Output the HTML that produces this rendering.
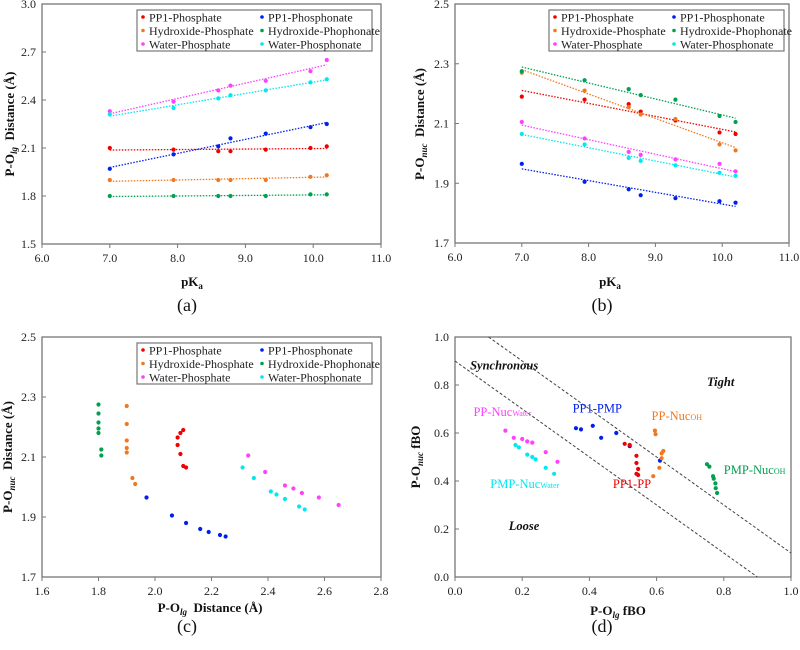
<!DOCTYPE html>
<html><head><meta charset="utf-8"><style>
body{margin:0;background:#fff;width:800px;height:650px;overflow:hidden}
svg{display:block;font-family:"Liberation Serif",serif}
</style></head><body>
<svg id="fig" width="800" height="650" viewBox="0 0 800 650"></svg>
<script>
const pka=[7.0,7.94,8.6,8.78,9.3,9.96,10.2];
const seriesNames=["PP1-Phosphate","PP1-Phosphonate","Hydroxide-Phosphate","Hydroxide-Phophonate","Water-Phosphate","Water-Phosphonate"];
const colors=["#f00000","#0020f0","#f07820","#00a050","#ff40ff","#00e8f0"];
const olgRed=[2.10,2.09,2.08,2.08,2.09,2.10,2.11];
const olgBlue=[1.97,2.06,2.11,2.16,2.19,2.23,2.25];
const olgOrange=[1.90,1.90,1.90,1.90,1.90,1.92,1.93];
const olgGreen=[1.80,1.80,1.80,1.80,1.80,1.81,1.81];
const olgMagenta=[2.33,2.39,2.46,2.49,2.52,2.58,2.65];
const olgCyan=[2.31,2.35,2.41,2.43,2.46,2.51,2.53];
const nucRed=[2.19,2.18,2.165,2.14,2.11,2.07,2.065];
const nucBlue=[1.965,1.905,1.88,1.86,1.85,1.84,1.835];
const nucOrange=[2.27,2.21,2.155,2.13,2.115,2.03,2.01];
const nucGreen=[2.275,2.245,2.215,2.195,2.18,2.125,2.105];
const nucMagenta=[2.105,2.05,2.005,1.995,1.98,1.965,1.94];
const nucCyan=[2.065,2.03,1.985,1.975,1.96,1.935,1.925];
const fboMagX=[0.15,0.175,0.2,0.215,0.23,0.27,0.305], fboMagY=[0.61,0.58,0.575,0.565,0.56,0.52,0.48];
const fboCyanX=[0.18,0.19,0.215,0.23,0.24,0.27,0.295], fboCyanY=[0.55,0.54,0.51,0.50,0.49,0.455,0.43];
const fboBlueX=[0.36,0.375,0.41,0.435,0.48,0.52,0.61], fboBlueY=[0.62,0.615,0.63,0.58,0.60,0.545,0.485];
const fboRedX=[0.505,0.52,0.54,0.54,0.545,0.54,0.545], fboRedY=[0.555,0.55,0.505,0.475,0.45,0.43,0.425];
const fboOrangeX=[0.595,0.597,0.615,0.62,0.615,0.608,0.59], fboOrangeY=[0.61,0.595,0.515,0.525,0.495,0.455,0.42];
const fboGreenX=[0.75,0.757,0.768,0.77,0.775,0.776,0.78], fboGreenY=[0.47,0.46,0.42,0.41,0.39,0.37,0.35];
const ticksA=[1.5,1.8,2.1,2.4,2.7,3.0], ticksB=[1.7,1.9,2.1,2.3,2.5], ticksPka=[6,7,8,9,10,11];
const ticksCx=[1.6,1.8,2.0,2.2,2.4,2.6,2.8], ticksD=[0,0.2,0.4,0.6,0.8,1.0];

const NS="http://www.w3.org/2000/svg", svg=document.getElementById('fig');
function el(tag,attrs,parent,text){const e=document.createElementNS(NS,tag);for(const k in attrs)e.setAttribute(k,attrs[k]);if(text!==undefined)e.textContent=text;(parent||svg).appendChild(e);return e;}

function panel(name,L,R,T,B,x0,x1,y0,y1,xt,yt){
  const g=el('g',{});
  
  
  const sx=v=>L+(v-x0)/(x1-x0)*(R-L), sy=v=>B-(v-y0)/(y1-y0)*(B-T);
  const fr=el('rect',{x:L,y:T,width:R-L,height:B-T,fill:'none',stroke:'#777','stroke-width':1.3},g);
  
  
  xt.forEach(v=>{const t=el('text',{x:sx(v),y:B+18,'text-anchor':'middle','font-size':12,fill:'#222'},g,v.toFixed(1));
    
    el('line',{x1:sx(v),x2:sx(v),y1:B,y2:B+4,stroke:'#777'},g);});
  yt.forEach(v=>{const t=el('text',{x:L-6,y:sy(v)+4,'text-anchor':'end','font-size':12,fill:'#222'},g,v.toFixed(1));
    
    el('line',{x1:L,x2:L+4,y1:sy(v),y2:sy(v),stroke:'#777'},g);});
  return {g,sx,sy};
}
function dots(p,xs,ys,c,name){xs.forEach((x,i)=>{const d=el('circle',{cx:p.sx(x),cy:p.sy(ys[i]),r:2.1,fill:c},p.g);
  });}
function trend(p,xs,ys,c,name){const n=xs.length;let mx=0,my=0;xs.forEach((x,i)=>{mx+=x;my+=ys[i];});mx/=n;my/=n;
  let sxy=0,sxx=0;xs.forEach((x,i)=>{sxy+=(x-mx)*(ys[i]-my);sxx+=(x-mx)*(x-mx);});const b=sxy/sxx,a=my-b*mx;
  const xa=Math.min(...xs),xb=Math.max(...xs);
  const l=el('line',{x1:p.sx(xa),y1:p.sy(a+b*xa),x2:p.sx(xb),y2:p.sy(a+b*xb),stroke:c,'stroke-width':1.3,'stroke-dasharray':'1.5,1.5'},p.g);
  }
function legend(p,x,y){const bx=el('rect',{x:x,y:y,width:235,height:41,fill:'#fff',stroke:'#777','stroke-width':1.2},p.g);
  
  seriesNames.forEach((s,i)=>{const cx=x+6+(i%2)*119, cy=y+7+Math.floor(i/2)*13.5;
    el('circle',{cx:cx,cy:cy,r:1.8,fill:colors[i]},p.g);
    const t=el('text',{x:cx+6,y:cy+4.5,'font-size':12,fill:'#222'},p.g,s);
    });}
function title(x,y,html,rot,name){const t=el('text',{x:x,y:y,'text-anchor':'middle','font-size':13,'font-weight':'bold',fill:'#111',transform:rot?`rotate(-90 ${x} ${y})`:''});
  t.innerHTML=html;}
function caption(x,y,s){const t=el('text',{x:x,y:y,'text-anchor':'middle','font-size':18,fill:'#111'},svg,s);
  }

const olg=[olgRed,olgBlue,olgOrange,olgGreen,olgMagenta,olgCyan];
const nuc=[nucRed,nucBlue,nucOrange,nucGreen,nucMagenta,nucCyan];
// (a)
const pa=panel('panel-a',42,381,4,244,6,11,1.5,3.0,ticksPka,ticksA);
olg.forEach((ys,i)=>{trend(pa,pka,ys,colors[i],seriesNames[i]);dots(pa,pka,ys,colors[i],seriesNames[i]);});
legend(pa,137,10);
title(192,286,'pK<tspan font-size="9" dy="3">a</tspan>',false,'x-axis-title');
title(14,124,'P-O<tspan font-size="9" font-style="italic" dy="3">lg</tspan><tspan dy="-3" xml:space="preserve">  Distance (Å)</tspan>',true,'y-axis-title');
caption(187,311,'(a)');
// (b)
const pb=panel('panel-b',455,789,4,243,6,11,1.7,2.5,ticksPka,ticksB);
nuc.forEach((ys,i)=>{trend(pb,pka,ys,colors[i],seriesNames[i]);dots(pb,pka,ys,colors[i],seriesNames[i]);});
legend(pb,549,10);
title(610,286,'pK<tspan font-size="9" dy="3">a</tspan>',false,'x-axis-title');
title(424,124,'P-O<tspan font-size="9" font-style="italic" dy="3">nuc</tspan><tspan dy="-3" xml:space="preserve">  Distance (Å)</tspan>',true,'y-axis-title');
caption(602,311,'(b)');
// (c)
const pc=panel('panel-c',42,381,337,577,1.6,2.8,1.7,2.5,ticksCx,ticksB);
olg.forEach((xs,i)=>dots(pc,xs,nuc[i],colors[i],seriesNames[i]));
legend(pc,137,343);
title(210,612,'P-O<tspan font-size="9" font-style="italic" dy="3">lg</tspan><tspan dy="-3" xml:space="preserve">  Distance (Å)</tspan>',false,'x-axis-title');
title(12,457,'P-O<tspan font-size="9" font-style="italic" dy="3">nuc</tspan><tspan dy="-3" xml:space="preserve">  Distance (Å)</tspan>',true,'y-axis-title');
caption(187,632,'(c)');
// (d)
const pd=panel('panel-d',455,791,337,577,0,1,0,1,ticksD,ticksD);
[[0.1,1.0,1.0,0.1],[0,0.9,0.9,0]].forEach(l=>{const d=el('line',{x1:pd.sx(l[0]),y1:pd.sy(l[1]),x2:pd.sx(l[2]),y2:pd.sy(l[3]),stroke:'#444','stroke-width':1,'stroke-dasharray':'3,2'},pd.g);
  });
dots(pd,fboMagX,fboMagY,colors[4],'pp-nuc-water');
dots(pd,fboCyanX,fboCyanY,colors[5],'pmp-nuc-water');
dots(pd,fboBlueX,fboBlueY,colors[1],'pp1-pmp');
dots(pd,fboRedX,fboRedY,colors[0],'pp1-pp');
dots(pd,fboOrangeX,fboOrangeY,colors[2],'pp-nuc-oh');
dots(pd,fboGreenX,fboGreenY,colors[3],'pmp-nuc-oh');
function lab(x,y,html,c,extra,name){const t=el('text',Object.assign({x:pd.sx(x),y:pd.sy(y),'font-size':12.5,fill:c},extra||{}),pd.g);t.innerHTML=html;
  }
const bi={'font-weight':'bold','font-style':'italic'};
lab(0.045,0.865,'Synchronous','#111',bi,'synchronous-label');
lab(0.75,0.795,'Tight','#111',bi,'tight-label');
lab(0.16,0.195,'Loose','#111',bi,'loose-label');
lab(0.055,0.67,'PP-Nuc<tspan font-size="8">Water</tspan>',colors[4],{},'pp-nuc-water-label');
lab(0.35,0.685,'PP1-PMP',colors[1],{},'pp1-pmp-label');
lab(0.585,0.655,'PP-Nuc<tspan font-size="8">OH</tspan>',colors[2],{},'pp-nuc-oh-label');
lab(0.8,0.43,'PMP-Nuc<tspan font-size="8">OH</tspan>',colors[3],{},'pmp-nuc-oh-label');
lab(0.105,0.37,'PMP-Nuc<tspan font-size="8">Water</tspan>',colors[5],{},'pmp-nuc-water-label');
lab(0.47,0.37,'PP1-PP',colors[0],{},'pp1-pp-label');
title(618,615,'P-O<tspan font-size="9" font-style="italic" dy="3">lg</tspan><tspan dy="-3"> fBO</tspan>',false,'x-axis-title');
title(420,457,'P-O<tspan font-size="9" font-style="italic" dy="3">nuc</tspan><tspan dy="-3"> fBO</tspan>',true,'y-axis-title');
caption(602,632,'(d)');
</script>
</body></html>
